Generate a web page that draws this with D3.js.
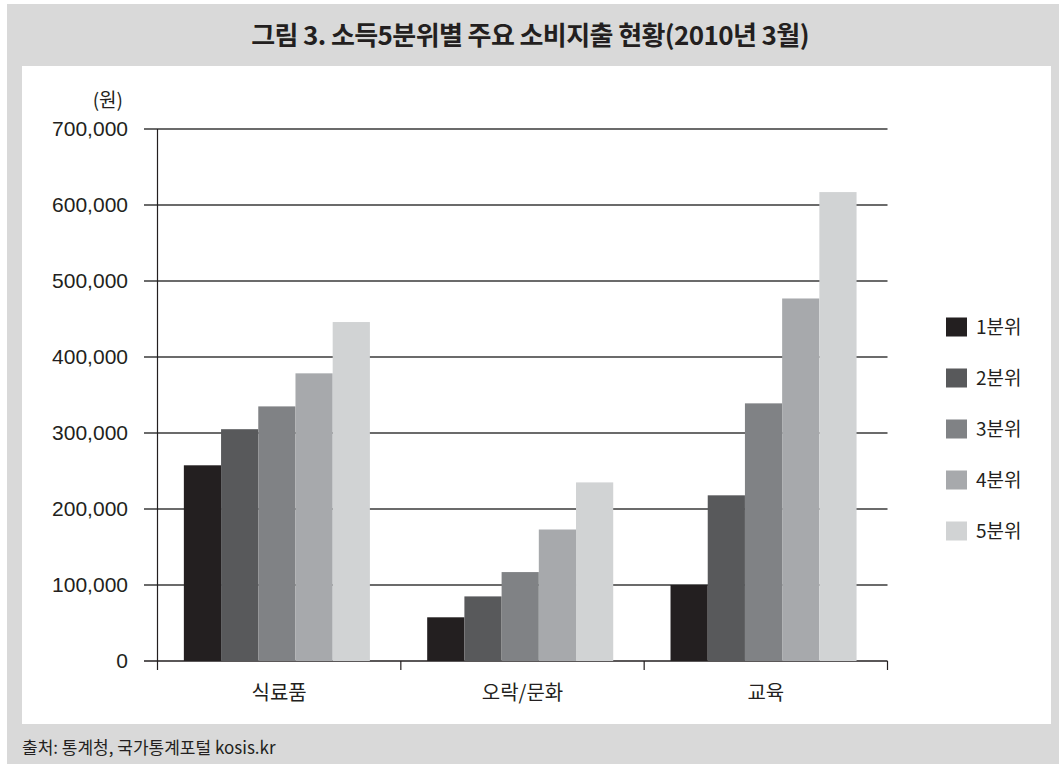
<!DOCTYPE html>
<html>
<head>
<meta charset="utf-8">
<script src="https://cdn.jsdelivr.net/npm/d3@7"></script>
<style>
  html, body { margin: 0; padding: 0; background: #ffffff; }
  svg { display: block; }
  text { fill: #231f20; }
</style>
</head>
<body>
<svg id="chart" width="1059" height="764"></svg>
<script>
// Spending categories and income quintile series (won)
const categories = ["식료품", "오락/문화", "교육"];
const seriesNames = ["1분위", "2분위", "3분위", "4분위", "5분위"];
const q1 = [257500, 57500, 100000];
const q2 = [305000, 85000, 218000];
const q3 = [335000, 117000, 339000];
const q4 = [378500, 173000, 477000];
const q5 = [446000, 235000, 617000];
const seriesValues = [q1, q2, q3, q4, q5];
const seriesColors = ["#231f20", "#58595b", "#808285", "#a7a9ac", "#d1d3d4"];
const yTicks = [0, 100000, 200000, 300000, 400000, 500000, 600000, 700000];

const titleText = "그림 3. 소득5분위별 주요 소비지출 현황(2010년 3월)";
const unitText = "(원)";
const sourceText = "출처: 통계청, 국가통계포털 kosis.kr";

const KR = "'Noto Sans CJK KR', 'Noto Sans', sans-serif";
const NUM = "'Liberation Sans', Arial, sans-serif";

const svg = d3.select("#chart");

// Frame: grey card with a white plotting panel
svg.append("rect").attr("x", 7).attr("y", 4).attr("width", 1052).attr("height", 760).attr("fill", "#d9d9d9");
svg.append("rect").attr("x", 22).attr("y", 66).attr("width", 1029).attr("height", 658).attr("fill", "#ffffff");

svg.append("text")
  .attr("x", 530).attr("y", 45)
  .attr("text-anchor", "middle")
  .style("font-family", KR).style("font-weight", 700).style("font-size", "26px")
  .style("letter-spacing", "-0.6px")
  .text(titleText);

svg.append("text")
  .attr("x", 22).attr("y", 754)
  .style("font-family", KR).style("font-size", "17px")
  .text(sourceText);

// Scales
const x0 = d3.scaleBand().domain(categories).range([157.5, 887.5]).paddingInner(0).paddingOuter(0);
const x1 = d3.scaleBand().domain(seriesNames).range([0, x0.bandwidth()]).paddingInner(0).paddingOuter(0.77).align(0.46);
const y = d3.scaleLinear().domain([0, 700000]).range([661, 129]);
const color = d3.scaleOrdinal().domain(seriesNames).range(seriesColors);

// Horizontal gridlines
svg.append("g").selectAll("line").data(yTicks).join("line")
  .attr("x1", 144).attr("x2", 887.5)
  .attr("y1", d => y(d)).attr("y2", d => y(d))
  .attr("stroke", d => d === 0 ? "#231f20" : "#3a3a3a")
  .attr("stroke-width", d => d === 0 ? 1.3 : 1.7);

// Y-axis labels
const yAxis = d3.axisLeft(y).tickValues(yTicks).tickSize(0).tickPadding(16)
  .tickFormat(d3.format(","));
const yg = svg.append("g").attr("transform", "translate(144,0)").call(yAxis);
yg.select(".domain").remove();
yg.selectAll("text").style("font-family", NUM).style("font-size", "21px").attr("fill", "#231f20");

svg.append("text")
  .attr("x", 123).attr("y", 107)
  .attr("text-anchor", "end")
  .style("font-family", KR).style("font-size", "19px")
  .text(unitText);

// Bars
const rows = categories.map((c, i) => ({ category: c, values: seriesNames.map((s, j) => ({ series: s, value: seriesValues[j][i] })) }));
svg.append("g").selectAll("g").data(rows).join("g")
  .attr("transform", d => `translate(${x0(d.category)},0)`)
  .selectAll("rect").data(d => d.values).join("rect")
  .attr("x", d => x1(d.series))
  .attr("width", x1.bandwidth())
  .attr("y", d => y(d.value))
  .attr("height", d => y(0) - y(d.value))
  .attr("fill", d => color(d.series));

// Vertical axis line and category boundary ticks
svg.append("line")
  .attr("x1", 157.5).attr("x2", 157.5).attr("y1", y(700000)).attr("y2", 670)
  .attr("stroke", "#231f20").attr("stroke-width", 1.2);
const bounds = categories.map(c => x0(c)).concat([x0.range()[1]]);
svg.append("g").selectAll("line").data(bounds.slice(1)).join("line")
  .attr("x1", d => d).attr("x2", d => d)
  .attr("y1", y(0)).attr("y2", 670)
  .attr("stroke", "#231f20").attr("stroke-width", 1.2);

// Category labels
svg.append("g").selectAll("text").data(categories).join("text")
  .attr("x", d => x0(d) + x0.bandwidth() / 2)
  .attr("y", 700)
  .attr("text-anchor", "middle")
  .style("font-family", KR).style("font-size", "20px")
  .text(d => d);

// Legend
const legend = svg.append("g").selectAll("g").data(seriesNames).join("g")
  .attr("transform", (d, i) => `translate(946,${327 + i * 51})`);
legend.append("rect")
  .attr("x", 0).attr("y", -9.5).attr("width", 21).attr("height", 19)
  .attr("fill", d => color(d));
legend.append("text")
  .attr("x", 30).attr("y", 7)
  .style("font-family", KR).style("font-size", "19px")
  .text(d => d);
</script>
</body>
</html>
